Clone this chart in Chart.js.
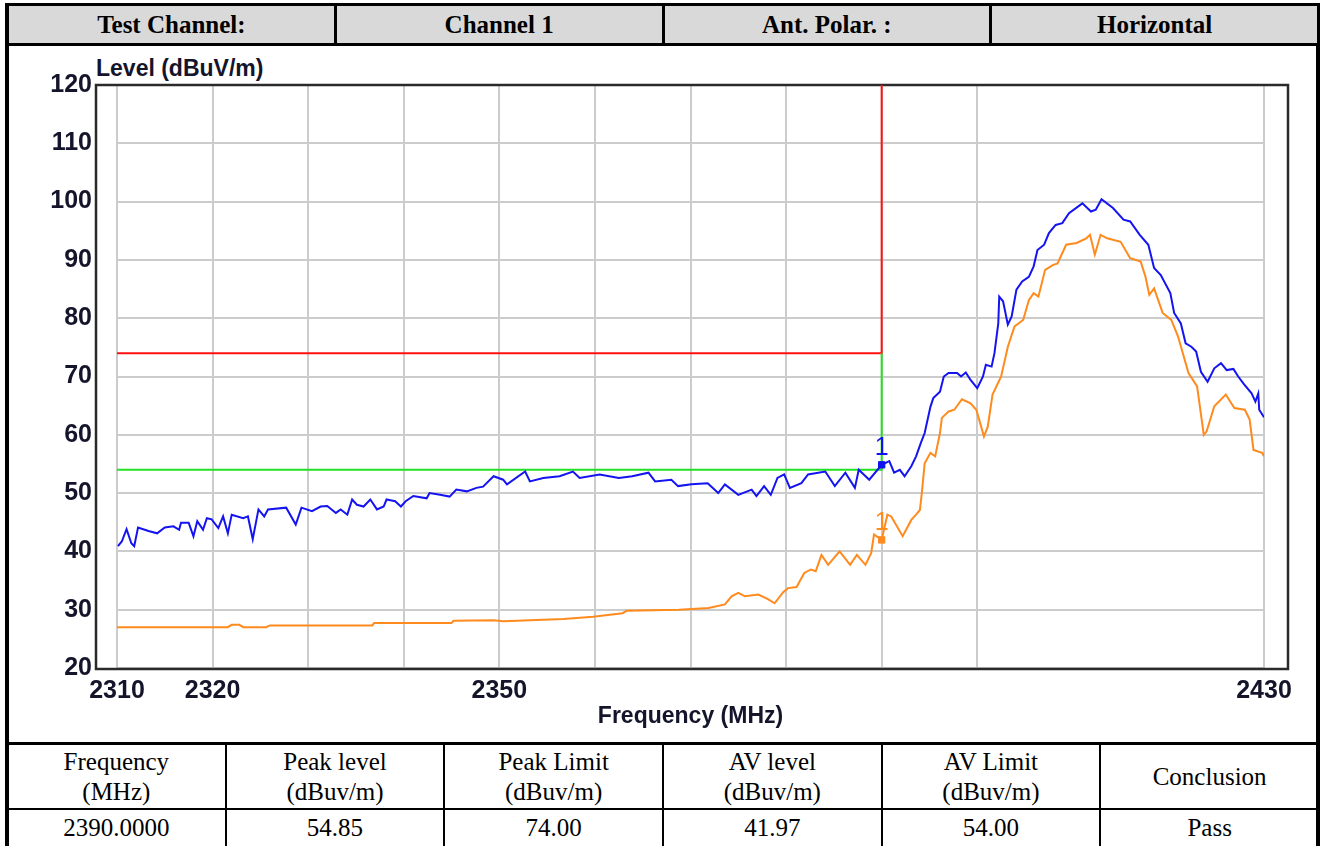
<!DOCTYPE html>
<html>
<head>
<meta charset="utf-8">
<script src="https://cdn.jsdelivr.net/npm/chart.js@4.4.0/dist/chart.umd.min.js"></script>
<style>
body { margin:0; background:#fff; width:1328px; height:846px; overflow:hidden; position:relative; font-family:"Liberation Serif","Times New Roman",serif; }
.side { position:absolute; top:3px; height:850px; width:4px; background:#000; }
table { border-collapse:collapse; position:absolute; table-layout:fixed; }
#head { left:6px; top:3px; width:1314px; height:43px; }
#head td { background:#d9d9d9; border:3px solid #000; font-weight:bold; font-size:25px; text-align:center; padding:0; }
#foot { left:6px; top:742px; width:1314px; }
#foot td { border:2px solid #000; font-size:25px; text-align:center; padding:0; line-height:30px; }
#foot tr.h td { height:63px; border-top:3px solid #000; }
#foot tr.v td { height:36px; }
#level { position:absolute; left:96px; top:57px; font:bold 23px "Liberation Sans",Arial,sans-serif; color:#14142b; line-height:23px; }
canvas { position:absolute; left:0; top:0; }
</style>
</head>
<body>
<div class="side" style="left:5px"></div>
<div class="side" style="left:1316px"></div>
<table id="head">
  <tr><td>Test Channel:</td><td>Channel 1</td><td>Ant. Polar. :</td><td>Horizontal</td></tr>
</table>
<div id="level">Level (dBuV/m)</div>
<table id="foot">
  <tr class="h"><td>Frequency<br>(MHz)</td><td>Peak level<br>(dBuv/m)</td><td>Peak Limit<br>(dBuv/m)</td><td>AV level<br>(dBuv/m)</td><td>AV Limit<br>(dBuv/m)</td><td>Conclusion</td></tr>
  <tr class="v"><td>2390.0000</td><td>54.85</td><td>74.00</td><td>41.97</td><td>54.00</td><td>Pass</td></tr>
</table>
<canvas id="chart" width="1328" height="846"></canvas>
<script>
// axis ticks
var xGridTicks = [2310, 2320, 2330, 2340, 2350, 2360, 2370, 2380, 2390, 2400, 2430];
var xLabelTicks = [2310, 2320, 2350, 2430];
var yTicks = [20, 30, 40, 50, 60, 70, 80, 90, 100, 110, 120];

// peak trace (blue)
var peakFreq = [2310.1, 2310.5, 2311.0, 2311.5, 2311.8, 2312.2, 2313.3, 2314.2, 2315.0, 2315.9,
  2316.5, 2316.7, 2317.5, 2318.0, 2318.4, 2319.0, 2319.4, 2319.9, 2320.6, 2321.1,
  2321.6, 2322.0, 2323.2, 2323.7, 2324.2, 2324.8, 2325.4, 2325.8, 2327.7, 2328.7,
  2329.3, 2330.4, 2331.3, 2332.0, 2332.9, 2333.4, 2334.1, 2334.6, 2335.1, 2335.8,
  2336.5, 2337.2, 2337.9, 2338.2, 2339.1, 2339.7, 2340.2, 2341.0, 2342.4, 2342.7,
  2343.8, 2344.8, 2345.5, 2346.6, 2347.6, 2348.3,
  2349.4, 2350.4, 2350.8, 2352.7, 2353.2, 2354.6, 2356.3, 2357.7, 2358.4, 2360.5,
  2362.5, 2363.9, 2365.6, 2366.3, 2368.0, 2368.7, 2370.1, 2371.8, 2372.9, 2373.6,
  2375.0, 2376.4, 2376.9, 2377.7, 2378.4, 2379.1, 2379.8, 2380.4, 2381.6, 2382.3,
  2384.1, 2385.1, 2386.2, 2387.2, 2387.6, 2388.7, 2390.0, 2390.8, 2391.3, 2391.9,
  2392.4, 2393.1, 2393.6, 2394.1, 2394.5, 2395.1, 2395.4, 2396.1, 2396.5, 2397.0,
  2397.9, 2398.3, 2398.8, 2399.3, 2400.0, 2400.6, 2400.9, 2401.5, 2401.8, 2402.2,
  2402.3, 2402.7, 2403.2, 2403.6, 2404.1, 2404.7, 2405.4, 2405.9, 2406.3, 2407.0,
  2407.5, 2408.2, 2408.9, 2409.6, 2411.0, 2411.9, 2412.4, 2413.0, 2414.2, 2415.3,
  2416.0, 2417.0, 2417.9, 2418.5, 2419.2, 2420.2, 2420.6, 2421.3, 2421.8, 2422.4,
  2422.9, 2423.4, 2424.1, 2424.8, 2425.5, 2426.1, 2426.8, 2427.3, 2427.9, 2428.7,
  2429.1, 2429.4, 2429.5, 2430.0];
var peakLevel = [40.9, 41.7, 43.8, 41.4, 40.9, 44.1, 43.5, 43.1, 44.1, 44.3,
  43.7, 44.9, 44.9, 42.6, 45.2, 43.7, 45.7, 45.5, 44.0, 46.0,
  43.1, 46.3, 45.7, 46.0, 42.1, 47.2, 46.0, 47.2, 47.5, 44.6,
  47.5, 46.9, 47.7, 47.8, 46.6, 47.2, 46.3, 48.9, 48.0, 47.7,
  48.9, 47.2, 47.7, 48.9, 48.6, 47.7, 48.6, 49.5, 49.1, 50.0,
  49.7, 49.4, 50.6, 50.3, 50.9, 51.1,
  52.9, 52.3, 51.5, 53.7, 52.0, 52.6, 52.9, 53.7, 52.6, 53.2,
  52.6, 52.9, 53.5, 52.0, 52.3, 51.2, 51.5, 51.7, 50.0, 51.5,
  49.7, 50.6, 49.5, 51.2, 49.7, 52.6, 53.2, 50.9, 51.7, 53.2,
  53.7, 51.2, 53.5, 50.9, 54.0, 52.3, 54.85, 55.5, 53.5, 54.0,
  52.9, 54.6, 56.3, 58.6, 60.3, 64.8, 66.3, 67.4, 70.0, 70.6,
  70.6, 70.0, 70.7, 69.4, 68.0, 70.0, 72.0, 71.7, 74.0, 79.1,
  83.7, 82.9, 78.9, 80.3, 84.9, 86.3, 87.1, 88.9, 91.7, 92.6,
  94.6, 96.0, 96.3, 98.0, 99.7, 98.3, 98.6, 100.4, 98.9, 96.9,
  96.6, 94.3, 92.6, 88.6, 87.4, 84.3, 80.9, 79.1, 75.7, 75.1,
  74.3, 70.8, 69.1, 71.4, 72.3, 71.1, 71.3, 70.0, 68.7, 67.1,
  65.7, 67.1, 64.3, 63.0];

// average trace (orange)
var avgFreq = [2310.0, 2321.6, 2322.0, 2322.8, 2323.2, 2325.6, 2326.0, 2336.7, 2336.9, 2345.0,
  2345.2, 2349.4, 2350.4, 2356.7, 2359.8, 2362.9, 2363.3, 2368.8, 2371.9, 2373.6,
  2374.3, 2375.0, 2375.7, 2377.1, 2378.1, 2378.8, 2379.7, 2380.2, 2381.1, 2381.9,
  2382.6, 2383.1, 2383.7, 2384.4, 2385.6, 2386.7, 2387.4, 2388.3, 2388.9, 2389.2,
  2390.0, 2390.6, 2391.0, 2392.2, 2393.1, 2393.6, 2394.0, 2394.2, 2394.5, 2395.1,
  2395.6, 2396.1, 2396.3, 2397.0, 2397.6, 2398.4, 2399.3, 2399.9, 2400.2, 2400.7,
  2401.1, 2401.6, 2402.5, 2403.2, 2403.9, 2404.8, 2405.4, 2405.9, 2406.4, 2407.1,
  2407.9, 2408.4, 2409.3, 2410.4, 2411.4, 2411.8, 2412.3, 2412.9, 2413.6, 2415.0,
  2416.0, 2417.1, 2417.6, 2418.0, 2418.5, 2419.4, 2420.3, 2421.0, 2422.1, 2423.0,
  2423.7, 2424.0, 2424.8, 2426.0, 2426.9, 2428.0, 2428.5, 2428.9, 2429.8, 2430.0];
var avgLevel = [27.0, 27.0, 27.4, 27.4, 27.0, 27.0, 27.3, 27.3, 27.7, 27.7,
  28.1, 28.2, 28.0, 28.4, 28.8, 29.4, 29.8, 30.0, 30.3, 30.9,
  32.3, 32.9, 32.3, 32.6, 31.8, 31.1, 33.0, 33.7, 33.9, 36.3,
  36.9, 36.6, 39.4, 37.7, 40.0, 37.7, 39.4, 37.7, 39.7, 42.9,
  41.97, 46.3, 46.0, 42.6, 45.4, 46.3, 47.1, 50.0, 55.1, 56.9,
  56.3, 60.3, 62.9, 64.0, 64.3, 66.1, 65.4, 64.3, 62.6, 59.7,
  61.4, 66.9, 70.0, 75.1, 78.6, 79.7, 83.1, 84.3, 83.7, 88.3,
  89.1, 89.4, 92.6, 92.9, 93.7, 94.3, 90.9, 94.3, 93.7, 93.1,
  90.3, 89.7, 87.1, 84.0, 85.1, 80.9, 79.7, 76.9, 70.6, 68.3,
  60.0, 60.6, 64.9, 66.9, 64.6, 64.3, 62.6, 57.4, 56.9, 56.3];

// limits
var peakLimitFreq = [2310, 2390, 2390];
var peakLimitLevel = [74, 74, 120];
var avLimitFreq = [2310, 2390, 2390];
var avLimitLevel = [54, 54, 74];

// markers
var markerFreq = [2390, 2390];
var markerLevel = [54.85, 41.97];
var markerText = ['1', '1'];
var markerColors = ['#1010f0', '#ff8a1e'];

function pts(xs, ys) {
  return xs.map(function (x, i) { return { x: x, y: ys[i] }; });
}

var textColor = '#14142b';
var tickFont = { family: 'Liberation Sans', size: 25, weight: 'bold' };
var titleFont = { family: 'Liberation Sans', size: 23, weight: 'bold' };

var framePlugin = {
  id: 'frame',
  beforeDatasetsDraw: function (chart) {
    var a = chart.chartArea, c = chart.ctx;
    c.save();
    c.strokeStyle = '#2a2a2a';
    c.lineWidth = 2.5;
    c.strokeRect(a.left - 21, a.top, a.right - a.left + 45, a.bottom - a.top + 1);
    c.restore();
  }
};

var markerLabels = {
  id: 'markerLabels',
  afterDatasetsDraw: function (chart) {
    var meta = chart.getDatasetMeta(0), c = chart.ctx;
    c.save();
    c.font = '25px "Liberation Sans"';
    c.textAlign = 'center';
    c.textBaseline = 'bottom';
    meta.data.forEach(function (el, i) {
      c.fillStyle = markerColors[i];
      c.fillText(markerText[i], el.x, el.y - 4);
    });
    c.restore();
  }
};

var ctx = document.getElementById('chart').getContext('2d');
var chart = new Chart(ctx, {
  type: 'scatter',
  data: {
    datasets: [{
      label: 'Marker',
      data: pts(markerFreq, markerLevel),
      pointStyle: 'rect',
      pointRadius: 4.5,
      pointBackgroundColor: markerColors,
      pointBorderColor: markerColors,
      showLine: false
    }, {
      label: 'Peak',
      data: pts(peakFreq, peakLevel),
      showLine: true,
      borderColor: '#1414f0',
      borderWidth: 2,
      pointRadius: 0,
      tension: 0
    }, {
      label: 'AV',
      data: pts(avgFreq, avgLevel),
      showLine: true,
      borderColor: '#ff8a1e',
      borderWidth: 2,
      pointRadius: 0,
      tension: 0
    }, {
      label: 'AV Limit',
      data: pts(avLimitFreq, avLimitLevel),
      showLine: true,
      borderColor: '#22e022',
      borderWidth: 2,
      pointRadius: 0,
      tension: 0
    }, {
      label: 'Peak Limit',
      data: pts(peakLimitFreq, peakLimitLevel),
      showLine: true,
      borderColor: '#ff1010',
      borderWidth: 2,
      pointRadius: 0,
      tension: 0
    }]
  },
  options: {
    responsive: false,
    animation: false,
    devicePixelRatio: 1,
    layout: { padding: { left: 0, top: 85, right: 64, bottom: 108 } },
    plugins: { legend: { display: false }, tooltip: { enabled: false } },
    scales: {
      x: {
        type: 'linear',
        min: 2310,
        max: 2430,
        afterBuildTicks: function (s) { s.ticks = xGridTicks.map(function (v) { return { value: v }; }); },
        afterFit: function (s) { s.height = 70; },
        grid: { color: '#cccccc', lineWidth: 2, drawTicks: false },
        border: { display: false },
        ticks: {
          autoSkip: false, maxRotation: 0, padding: 8, color: textColor, font: tickFont,
          callback: function (v) { return xLabelTicks.indexOf(v) >= 0 ? String(v) : ''; }
        },
        title: { display: true, text: 'Frequency (MHz)', color: textColor, font: titleFont, padding: { top: 0, bottom: 8 } }
      },
      y: {
        min: 20,
        max: 120,
        afterBuildTicks: function (s) { s.ticks = yTicks.map(function (v) { return { value: v }; }); },
        afterFit: function (s) { s.width = 117; },
        grid: { color: '#cccccc', lineWidth: 2, drawTicks: false },
        border: { display: false },
        ticks: { padding: 25, color: textColor, font: tickFont }
      }
    }
  },
  plugins: [framePlugin, markerLabels]
});
</script>
</body>
</html>
